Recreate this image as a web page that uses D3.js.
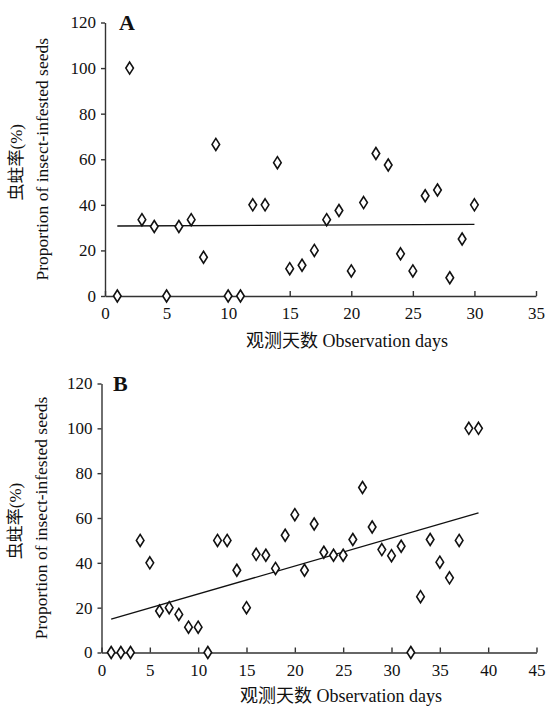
<!DOCTYPE html>
<html>
<head>
<style>
  body { margin: 0; background: #fff; }
  text { font-family: "Liberation Serif", "Noto Sans CJK SC", serif; fill: #111; }
</style>
</head>
<body>
<div id="chart"></div>
<script src="https://d3js.org/d3.v7.min.js"></script>
<script>
// panel A: observation days 1-30
const daysA = [1, 2, 3, 4, 5, 6, 7, 8, 9, 10, 11, 12, 13, 14, 15,
  16, 17, 18, 19, 20, 21, 22, 23, 24, 25, 26, 27, 28, 29, 30];
const rateA = [0, 100, 33.5, 30.5, 0, 30.5, 33.5, 17, 66.5, 0, 0, 40, 40, 58.5, 12,
  13.5, 20, 33.5, 37.5, 11, 41, 62.5, 57.5, 18.5, 11, 44, 46.5, 8, 25, 40];

// panel B: observation days 1-39
const daysB = [1, 2, 3, 4, 5, 6, 7, 8, 9, 10, 11, 12, 13, 14, 15, 16, 17, 18, 19, 20,
  21, 22, 23, 24, 25, 26, 27, 28, 29, 30, 31, 32, 33, 34, 35, 36, 37, 38, 39];
const rateB = [0, 0, 0, 50, 40, 18.5, 20, 17, 11.3, 11.3, 0, 50, 50, 36.7, 20, 43.8, 43.4, 37.5, 52.3, 61.5,
  36.7, 57.3, 44.7, 43.4, 43.4, 50.4, 73.6, 56, 45.9, 43.2, 47.4, 0, 24.9, 50.4, 40.3, 33.3, 50, 100, 100];

const yTicks = [0, 20, 40, 60, 80, 100, 120];
const xTitle = '观测天数 Observation days';
const yTitleCn = '虫蛀率(%)';
const yTitleEn = 'Proportion of insect-infested seeds';

const width = 556, height = 711;

const svg = d3.select('#chart').append('svg')
  .attr('width', width)
  .attr('height', height);

svg.append('rect').attr('width', width).attr('height', height).attr('fill', '#fff');

function fit(xs, ys) {
  const mx = d3.mean(xs), my = d3.mean(ys);
  let sxy = 0, sxx = 0;
  xs.forEach((x, i) => { sxy += (x - mx) * (ys[i] - my); sxx += (x - mx) * (x - mx); });
  const b = sxy / sxx;
  return x => my + b * (x - mx);
}

function panel(opt) {
  const x = d3.scaleLinear().domain([0, opt.xMax]).range(opt.xRange);
  const y = d3.scaleLinear().domain([0, 120]).range(opt.yRange);
  const g = svg.append('g');

  const xAxis = g.append('g')
    .attr('transform', `translate(0,${opt.yRange[0]})`)
    .call(d3.axisBottom(x).tickValues(d3.range(0, opt.xMax + 1, 5))
      .tickSizeInner(-5).tickSizeOuter(0).tickPadding(11));

  const yAxis = g.append('g')
    .attr('transform', `translate(${opt.xRange[0]},0)`)
    .call(d3.axisLeft(y).tickValues(yTicks).tickSizeInner(4).tickSizeOuter(0).tickPadding(5));

  [xAxis, yAxis].forEach(a => {
    a.attr('font-family', null);
    a.selectAll('path, line').attr('stroke', '#333').attr('stroke-width', 1.4);
    a.selectAll('text').attr('fill', '#111')
      .style('font-family', '"Liberation Serif", "Times New Roman", serif')
      .style('font-size', '17px');
  });

  // regression line
  const f = fit(opt.days, opt.rate);
  const x0 = d3.min(opt.days), x1 = d3.max(opt.days);
  g.append('line')
    .attr('x1', x(x0)).attr('y1', y(f(x0)))
    .attr('x2', x(x1)).attr('y2', y(f(x1)))
    .attr('stroke', '#111').attr('stroke-width', 1.3);

  // diamonds
  g.selectAll('path.pt')
    .data(opt.days.map((d, i) => [d, opt.rate[i]]))
    .join('path')
    .attr('class', 'pt')
    .attr('d', d => {
      const cx = x(d[0]), cy = y(d[1]);
      return `M${cx},${cy - 6}L${cx + 3.8},${cy}L${cx},${cy + 6}L${cx - 3.8},${cy}Z`;
    })
    .attr('fill', '#fff')
    .attr('stroke', '#111')
    .attr('stroke-width', 1.6);

  g.append('text')
    .attr('x', opt.letterX).attr('y', opt.yRange[1] + 7)
    .attr('font-size', 22).attr('font-weight', 'bold')
    .text(opt.letter);

  g.append('text')
    .attr('x', opt.xTitleX).attr('y', opt.yRange[0] + opt.titleGap)
    .attr('text-anchor', 'middle').attr('font-size', 18)
    .text(xTitle);

  const cy = (opt.yRange[0] + opt.yRange[1]) / 2;
  g.append('text')
    .attr('transform', `translate(${opt.cnX},${cy + 3}) rotate(-90)`)
    .attr('text-anchor', 'middle').attr('font-size', 17)
    .text(yTitleCn);
  g.append('text')
    .attr('transform', `translate(${opt.enX},${cy}) rotate(-90)`)
    .attr('text-anchor', 'middle').attr('font-size', 17.5)
    .text(yTitleEn);
}

panel({
  days: daysA, rate: rateA, xMax: 35,
  xRange: [105, 536], yRange: [296, 22.5],
  letter: 'A', letterX: 119, xTitleX: 347, titleGap: 51, cnX: 22, enX: 48
});

panel({
  days: daysB, rate: rateB, xMax: 45,
  xRange: [101.5, 536.5], yRange: [652.5, 383.5],
  letter: 'B', letterX: 113, xTitleX: 341, titleGap: 49, cnX: 21, enX: 47
});
</script>
</body>
</html>
